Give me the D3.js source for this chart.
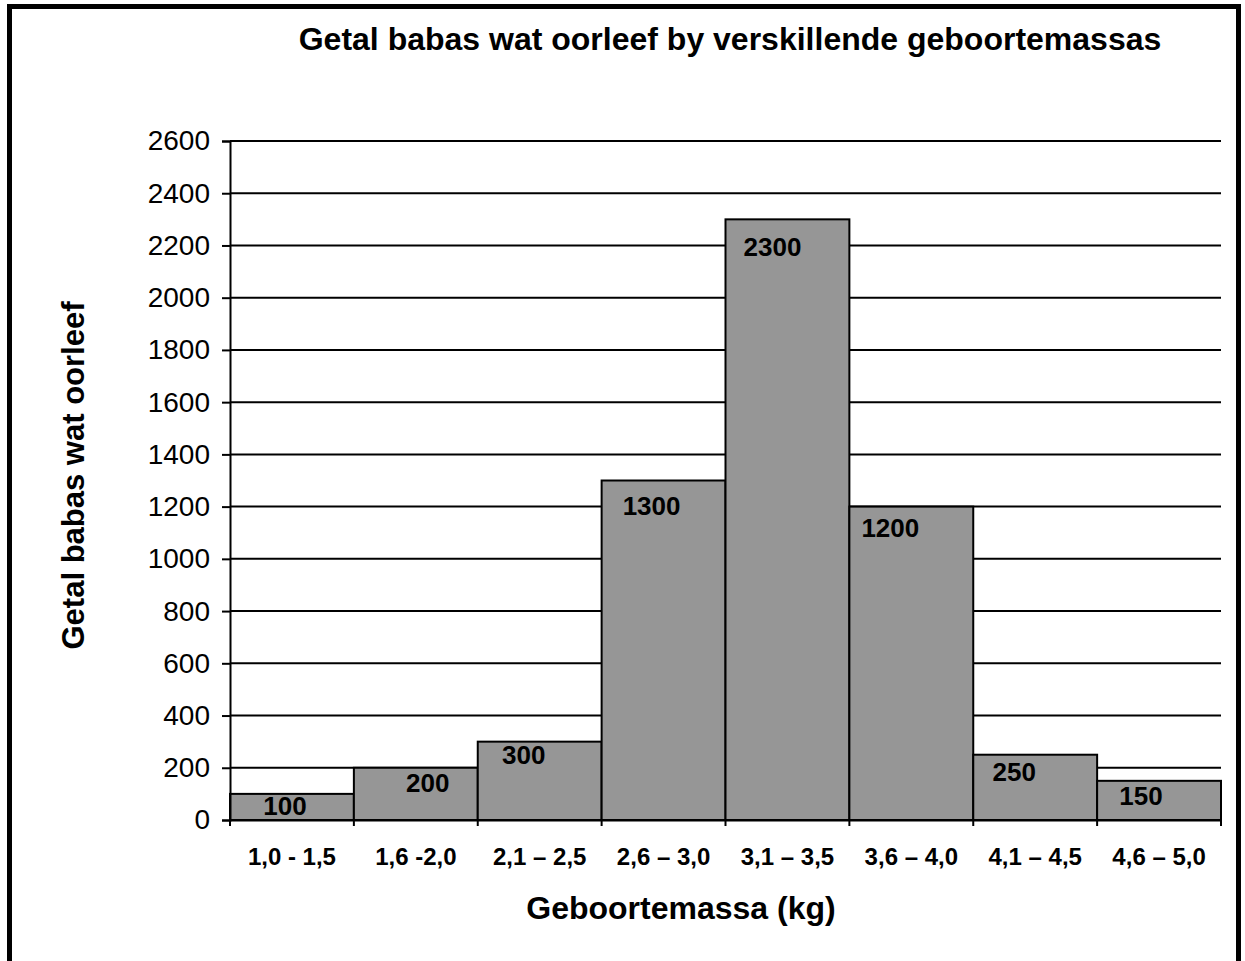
<!DOCTYPE html>
<html>
<head>
<meta charset="utf-8">
<script src="https://cdn.jsdelivr.net/npm/d3@7"></script>
<style>
  body { margin: 0; background: #fff; }
  svg { display: block; font-family: "Liberation Sans", Arial, sans-serif; }
</style>
</head>
<body>
<div id="chart"></div>
<script>
// data
const categories = ["1,0 - 1,5", "1,6 -2,0", "2,1 \u2013 2,5", "2,6 \u2013 3,0",
                    "3,1 \u2013 3,5", "3,6 \u2013 4,0", "4,1 \u2013 4,5", "4,6 \u2013 5,0"];
const survivors = [100, 200, 300, 1300, 2300, 1200, 250, 150];
const yTicks = d3.range(0, 2601, 200);

// manual nudges of the value labels (the original has them placed by hand)
const labelDx = [-7, 12, -16, -12, -15, -21, -21, -18];
const labelDy = [21, 24, 22, 34, 37, 30, 26, 24];

const width = 1245, height = 961;
const margin = { top: 141, right: 24, bottom: 141, left: 230 };

const svg = d3.select("#chart").append("svg")
  .attr("width", width)
  .attr("height", height);

// outer frame
svg.append("rect")
  .attr("x", 9.5).attr("y", 6.5)
  .attr("width", 1229).attr("height", 980)
  .attr("fill", "none")
  .attr("stroke", "#000")
  .attr("stroke-width", 5);

const x = d3.scaleBand()
  .domain(categories)
  .range([margin.left, width - margin.right])
  .padding(0);

const y = d3.scaleLinear()
  .domain([0, 2600])
  .range([height - margin.bottom, margin.top]);

// gridlines
svg.append("g")
  .selectAll("line")
  .data(yTicks.filter(d => d > 0))
  .join("line")
  .attr("x1", margin.left)
  .attr("x2", width - margin.right)
  .attr("y1", d => y(d))
  .attr("y2", d => y(d))
  .attr("stroke", "#000")
  .attr("stroke-width", 2);

// bars
svg.append("g")
  .selectAll("rect")
  .data(survivors)
  .join("rect")
  .attr("x", (d, i) => x(categories[i]))
  .attr("y", d => y(d))
  .attr("width", x.bandwidth())
  .attr("height", d => y(0) - y(d))
  .attr("fill", "#969696")
  .attr("stroke", "#000")
  .attr("stroke-width", 2);

// value labels
svg.append("g")
  .selectAll("text")
  .data(survivors)
  .join("text")
  .attr("x", (d, i) => x(categories[i]) + x.bandwidth() / 2 + labelDx[i])
  .attr("y", (d, i) => y(d) + labelDy[i])
  .attr("text-anchor", "middle")
  .attr("font-size", 26)
  .attr("font-weight", 700)
  .text(d => d);

// y axis
const yAxis = svg.append("g")
  .attr("transform", `translate(${margin.left},0)`)
  .call(d3.axisLeft(y).tickValues(yTicks).tickSize(8).tickPadding(12).tickFormat(d3.format("d")));
yAxis.select(".domain").attr("stroke-width", 2);
yAxis.selectAll(".tick line").attr("stroke-width", 2);
yAxis.selectAll(".tick text")
  .attr("font-size", 28)
  .attr("font-family", "Liberation Sans, Arial, sans-serif")
  .attr("fill", "#000");

// x axis
const xAxis = svg.append("g")
  .attr("transform", `translate(0,${y(0)})`)
  .call(d3.axisBottom(x).tickSize(0).tickPadding(28));
xAxis.select(".domain").attr("stroke-width", 2);
xAxis.selectAll(".tick text")
  .attr("font-size", 24)
  .attr("font-weight", 700)
  .attr("font-family", "Liberation Sans, Arial, sans-serif")
  .attr("fill", "#000");

// small tick marks on the category boundaries
svg.append("g")
  .selectAll("line")
  .data(categories.concat([null]))
  .join("line")
  .attr("x1", (d, i) => margin.left + i * x.bandwidth())
  .attr("x2", (d, i) => margin.left + i * x.bandwidth())
  .attr("y1", y(0))
  .attr("y2", y(0) + 6)
  .attr("stroke", "#000")
  .attr("stroke-width", 2);

// titles
svg.append("text")
  .attr("x", 730)
  .attr("y", 50)
  .attr("text-anchor", "middle")
  .attr("font-size", 32)
  .attr("font-weight", 700)
  .text("Getal babas wat oorleef by verskillende geboortemassas");

svg.append("text")
  .attr("x", 681)
  .attr("y", 919)
  .attr("text-anchor", "middle")
  .attr("font-size", 32)
  .attr("font-weight", 700)
  .text("Geboortemassa (kg)");

svg.append("text")
  .attr("transform", `translate(84,${(y(0) + y(2600)) / 2 - 5}) rotate(-90)`)
  .attr("text-anchor", "middle")
  .attr("font-size", 31)
  .attr("font-weight", 700)
  .text("Getal babas wat oorleef");
</script>
</body>
</html>
